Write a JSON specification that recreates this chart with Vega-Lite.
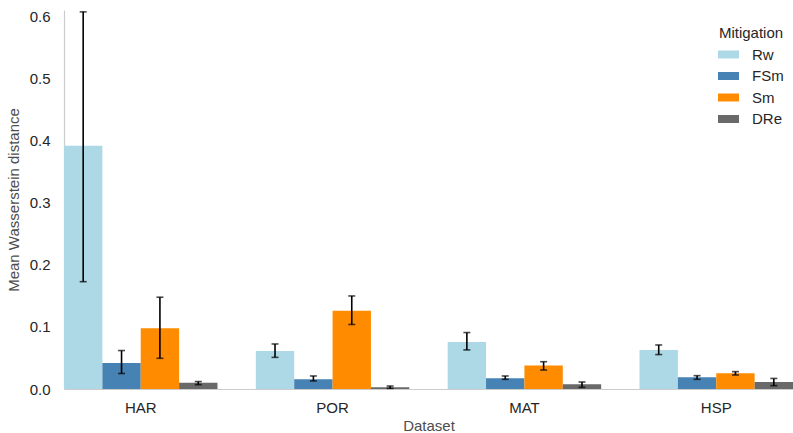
{
  "$schema": "https://vega.github.io/schema/vega-lite/v6.json",
  "width": 729,
  "height": 379,
  "autosize": {"type": "none"},
  "padding": {"left": 64, "top": 10, "right": 0, "bottom": 44},
  "background": "white",
  "config": {
    "view": {"stroke": null},
    "font": "Liberation Sans",
    "axis": {"grid": false, "ticks": false, "domainColor": "#cccccc", "domainWidth": 1.2, "labelFontSize": 15, "labelColor": "#262626", "titleFontSize": 15, "titleColor": "#4d4d4d", "titleFontWeight": "normal"},
    "legend": {"labelFontSize": 15, "titleFontSize": 15, "titleFontWeight": "normal", "labelColor": "#262626", "titleColor": "#262626"}
  },
  "data": {
    "values": [
      {"Dataset": "HAR", "Mitigation": "Rw", "mean": 0.392, "lo": 0.173, "hi": 0.608},
      {"Dataset": "HAR", "Mitigation": "FSm", "mean": 0.042, "lo": 0.025, "hi": 0.062},
      {"Dataset": "HAR", "Mitigation": "Sm", "mean": 0.098, "lo": 0.0495, "hi": 0.148},
      {"Dataset": "HAR", "Mitigation": "DRe", "mean": 0.010, "lo": 0.007, "hi": 0.012},
      {"Dataset": "POR", "Mitigation": "Rw", "mean": 0.0613, "lo": 0.051, "hi": 0.0726},
      {"Dataset": "POR", "Mitigation": "FSm", "mean": 0.0156, "lo": 0.013, "hi": 0.021},
      {"Dataset": "POR", "Mitigation": "Sm", "mean": 0.126, "lo": 0.104, "hi": 0.150},
      {"Dataset": "POR", "Mitigation": "DRe", "mean": 0.0027, "lo": 0.001, "hi": 0.0048},
      {"Dataset": "MAT", "Mitigation": "Rw", "mean": 0.0758, "lo": 0.063, "hi": 0.091},
      {"Dataset": "MAT", "Mitigation": "FSm", "mean": 0.0173, "lo": 0.0156, "hi": 0.021},
      {"Dataset": "MAT", "Mitigation": "Sm", "mean": 0.038, "lo": 0.0306, "hi": 0.044},
      {"Dataset": "MAT", "Mitigation": "DRe", "mean": 0.0076, "lo": 0.0027, "hi": 0.0113},
      {"Dataset": "HSP", "Mitigation": "Rw", "mean": 0.063, "lo": 0.0555, "hi": 0.071},
      {"Dataset": "HSP", "Mitigation": "FSm", "mean": 0.0188, "lo": 0.0156, "hi": 0.0215},
      {"Dataset": "HSP", "Mitigation": "Sm", "mean": 0.0253, "lo": 0.0226, "hi": 0.028},
      {"Dataset": "HSP", "Mitigation": "DRe", "mean": 0.0113, "lo": 0.0054, "hi": 0.017}
    ]
  },
  "encoding": {
    "x": {"field": "Dataset", "type": "nominal", "sort": ["HAR", "POR", "MAT", "HSP"], "scale": {"paddingInner": 0.2, "paddingOuter": 0}, "axis": {"labelAngle": 0, "labelPadding": 11, "titlePadding": 3, "title": "Dataset"}},
    "xOffset": {"field": "Mitigation", "type": "nominal", "sort": ["Rw", "FSm", "Sm", "DRe"], "scale": {"paddingInner": 0, "paddingOuter": 0}}
  },
  "layer": [
    {
      "mark": {"type": "bar"},
      "encoding": {
        "y": {"field": "mean", "type": "quantitative", "scale": {"domain": [0, 0.611], "nice": false}, "axis": {"values": [0, 0.1, 0.2, 0.3, 0.4, 0.5, 0.6], "format": ".1f", "labelPadding": 14, "titlePadding": 8, "title": "Mean Wasserstein distance"}},
        "color": {"field": "Mitigation", "type": "nominal", "sort": ["Rw", "FSm", "Sm", "DRe"], "scale": {"domain": ["Rw", "FSm", "Sm", "DRe"], "range": ["#add8e6", "#4682b4", "#ff8c00", "#696969"]},
          "legend": {"title": "Mitigation", "orient": "none", "legendX": 654, "legendY": 16, "symbolType": "M-1,-0.38H1V0.38H-1Z", "symbolSize": 441, "symbolStrokeWidth": 0, "labelOffset": 13, "rowPadding": 2.5, "titleAnchor": "middle", "titlePadding": 3, "padding": 0}}
      }
    },
    {
      "mark": {"type": "rule", "color": "black", "strokeWidth": 1.6},
      "encoding": {"y": {"field": "lo", "type": "quantitative"}, "y2": {"field": "hi"}}
    },
    {
      "mark": {"type": "tick", "color": "black", "size": 7, "thickness": 1.6},
      "encoding": {"y": {"field": "lo", "type": "quantitative"}}
    },
    {
      "mark": {"type": "tick", "color": "black", "size": 7, "thickness": 1.6},
      "encoding": {"y": {"field": "hi", "type": "quantitative"}}
    }
  ]
}
